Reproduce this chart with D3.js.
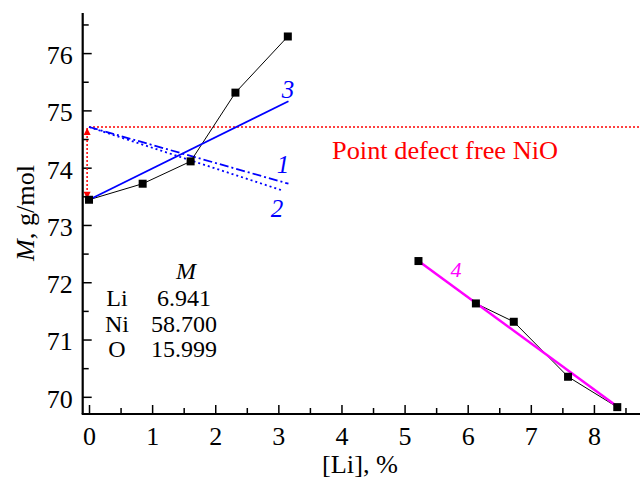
<!DOCTYPE html>
<html><head><meta charset="utf-8">
<script src="https://cdn.jsdelivr.net/npm/d3@7/dist/d3.min.js"></script>
<style>body{margin:0;background:#fff}svg{display:block}</style>
</head><body>
<script>
// Data
const seriesLowX = [0, 0.85, 1.61, 2.32, 3.15];
const seriesLowY = [73.44, 73.72, 74.11, 75.31, 76.29];
const seriesHighX = [5.22, 6.13, 6.73, 7.59, 8.37];
const seriesHighY = [72.37, 71.63, 71.31, 70.35, 69.82];
const line1 = [[0, 74.71], [3.16, 73.72]];
const line2 = [[0, 74.71], [3.07, 73.60]];
const line3 = [[0, 73.44], [3.16, 75.16]];
const line4 = [[5.22, 72.37], [8.37, 69.83]];
const defectFreeM = 74.71;
const xTicks = [0, 1, 2, 3, 4, 5, 6, 7, 8];
const yTicks = [70, 71, 72, 73, 74, 75, 76];
const elements = ["Li", "Ni", "O"];
const masses = ["6.941", "58.700", "15.999"];

const FF = "Liberation Serif, Tinos, Times New Roman, serif";
const W = 640, H = 483;
const svg = d3.select("body").append("svg").attr("width", W).attr("height", H)
  .attr("font-family", FF);
const x = d3.scaleLinear().domain([-0.1, 8.73]).range([82.7, 640]);
const y = d3.scaleLinear().domain([69.7, 76.7]).range([414, 13]);

const fs = 26;
const xMinor = d3.range(0.5, 8.6, 1);
const yMinor = d3.range(69.5, 76.6, 1).filter(v => v > 69.7);
const gx = svg.append("g").attr("transform", `translate(0,${y(69.7)})`);
gx.call(d3.axisBottom(x).tickValues(xMinor).tickSize(-6).tickFormat(""));
gx.selectAll(".tick line").attr("stroke-width", 1.5);
const gx2 = svg.append("g").attr("transform", `translate(0,${y(69.7)})`);
gx2.call(d3.axisBottom(x).tickValues(xTicks).tickSize(-9).tickPadding(13).tickFormat(d3.format("d")));
gx2.attr("font-family", FF).attr("font-size", fs);
gx2.selectAll(".tick line").attr("stroke-width", 1.5);
gx2.selectAll(".tick text").attr("dy", "0.71em");
svg.selectAll(".domain").remove();

const gy = svg.append("g").attr("transform", `translate(${x(-0.1)},0)`);
gy.call(d3.axisLeft(y).tickValues(yMinor).tickSize(-6).tickFormat(""));
gy.selectAll(".tick line").attr("stroke-width", 1.5);
const gy2 = svg.append("g").attr("transform", `translate(${x(-0.1)},0)`);
gy2.call(d3.axisLeft(y).tickValues(yTicks).tickSize(-9).tickPadding(10).tickFormat(d3.format("d")));
gy2.attr("font-family", FF).attr("font-size", fs);
gy2.selectAll(".tick line").attr("stroke-width", 1.5);
gy2.selectAll(".tick text").attr("dy", "0.4em");
svg.selectAll(".domain").remove();

// axis lines
svg.append("line").attr("x1", x(-0.1)).attr("x2", x(-0.1)).attr("y1", y(76.7)).attr("y2", y(69.7)).attr("stroke", "#000").attr("stroke-width", 2.2);
svg.append("line").attr("x1", x(-0.1) - 1).attr("x2", x(8.73)).attr("y1", y(69.7)).attr("y2", y(69.7)).attr("stroke", "#000").attr("stroke-width", 2.2);

// axis titles
svg.append("text").attr("x", 360).attr("y", 473).attr("text-anchor", "middle").attr("font-size", 25)
  .attr("textLength", 76).attr("lengthAdjust", "spacingAndGlyphs").text("[Li], %");
const yt = svg.append("text").attr("transform", "translate(34,213) rotate(-90)").attr("text-anchor", "middle").attr("font-size", fs)
  .attr("textLength", 96).attr("lengthAdjust", "spacingAndGlyphs");
yt.append("tspan").attr("font-style", "italic").text("M");
yt.append("tspan").text(", g/mol");

// red reference line
svg.append("line").attr("x1", x(0)).attr("x2", x(8.73)).attr("y1", y(defectFreeM)).attr("y2", y(defectFreeM))
  .attr("stroke", "#ff0000").attr("stroke-width", 1.5).attr("stroke-dasharray", "2,2");
svg.append("text").attr("x", 445).attr("y", 159).attr("text-anchor", "middle").attr("font-size", fs).attr("fill", "#ff0000")
  .attr("textLength", 226).attr("lengthAdjust", "spacingAndGlyphs").text("Point defect free NiO");

// double arrow
const defs = svg.append("defs");
defs.append("marker").attr("id", "arr").attr("viewBox", "0 0 10 10").attr("refX", 10).attr("refY", 5)
  .attr("markerWidth", 9).attr("markerHeight", 7).attr("markerUnits", "userSpaceOnUse").attr("orient", "auto-start-reverse")
  .append("path").attr("d", "M0,0L10,5L0,10Z").attr("fill", "#ff0000");
svg.append("line").attr("x1", x(-0.03)).attr("x2", x(-0.03)).attr("y1", y(defectFreeM) + 1).attr("y2", y(seriesLowY[0]) - 1)
  .attr("stroke", "#ff0000").attr("stroke-width", 1.5).attr("stroke-dasharray", "2,2")
  .attr("marker-start", "url(#arr)").attr("marker-end", "url(#arr)");

const lg = d3.line().x(d => x(d[0])).y(d => y(d[1]));
// blue fit lines 1 and 2
svg.append("path").attr("d", lg(line1)).attr("fill", "none").attr("stroke", "#0000ff").attr("stroke-width", 1.8).attr("stroke-dasharray", "9,3,2,3");
svg.append("path").attr("d", lg(line2)).attr("fill", "none").attr("stroke", "#0000ff").attr("stroke-width", 1.8).attr("stroke-dasharray", "2,3");

// black data series
const low = seriesLowX.map((v, i) => [v, seriesLowY[i]]);
const high = seriesHighX.map((v, i) => [v, seriesHighY[i]]);
[low, high].forEach(s => {
  svg.append("path").attr("d", lg(s)).attr("fill", "none").attr("stroke", "#000").attr("stroke-width", 1);
});
svg.append("path").attr("d", lg(line3)).attr("fill", "none").attr("stroke", "#0000ff").attr("stroke-width", 1.8);
svg.append("path").attr("d", lg(line4)).attr("fill", "none").attr("stroke", "#ff00ff").attr("stroke-width", 2.5);
[low, high].forEach(s => {
  svg.selectAll(null).data(s).enter().append("rect")
    .attr("x", d => x(d[0]) - 4).attr("y", d => y(d[1]) - 4).attr("width", 8).attr("height", 8).attr("fill", "#000");
});

// curve labels
const lab = (t, px, py, c, s) => svg.append("text").attr("x", px).attr("y", py).attr("text-anchor", "middle")
  .attr("font-size", s).attr("font-style", "italic").attr("fill", c).text(t);
lab("3", 288, 98, "#0000ff", 25);
lab("1", 283, 173, "#0000ff", 25);
lab("2", 277, 217, "#0000ff", 25);
lab("4", 456, 277, "#ff00ff", 22);

// table of atomic masses
const ts = 24;
svg.append("text").attr("x", 186).attr("y", 279).attr("text-anchor", "middle").attr("font-size", ts).attr("font-style", "italic").text("M");
elements.forEach((e, i) => {
  const yy = 306 + i * 25.5;
  svg.append("text").attr("x", 117).attr("y", yy).attr("text-anchor", "middle").attr("font-size", ts).text(e);
  svg.append("text").attr("x", 184).attr("y", yy).attr("text-anchor", "middle").attr("font-size", ts).text(masses[i]);
});
</script>
</body></html>
